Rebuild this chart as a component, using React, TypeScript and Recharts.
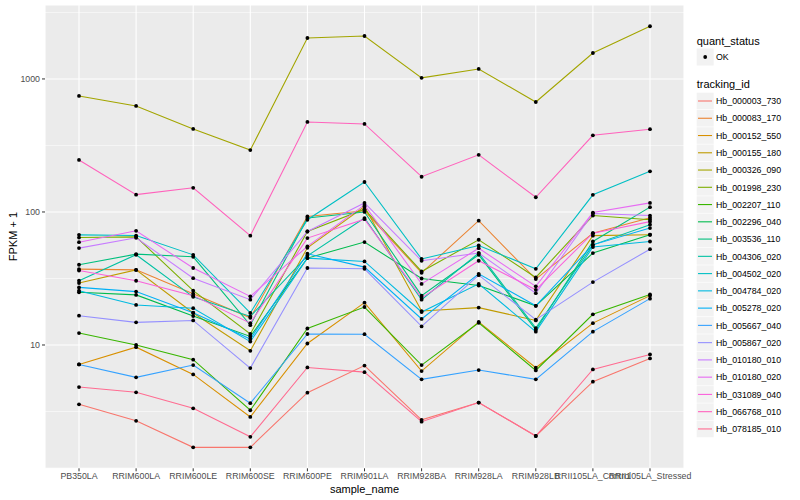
import React from 'react';
import { LineChart, Line, XAxis, YAxis, CartesianGrid, ReferenceLine, Legend } from 'recharts';

const samples = ['PB350LA', 'RRIM600LA', 'RRIM600LE', 'RRIM600SE', 'RRIM600PE', 'RRIM901LA', 'RRIM928BA', 'RRIM928LA', 'RRIM928LB', 'RRII105LA_Control', 'RRII105LA_Stressed'];

const trackingIds = ['Hb_000003_730', 'Hb_000083_170', 'Hb_000152_550', 'Hb_000155_180', 'Hb_000326_090', 'Hb_001998_230', 'Hb_002207_110', 'Hb_002296_040', 'Hb_003536_110', 'Hb_004306_020', 'Hb_004502_020', 'Hb_004784_020', 'Hb_005278_020', 'Hb_005667_040', 'Hb_005867_020', 'Hb_010180_010', 'Hb_010180_020', 'Hb_031089_040', 'Hb_066768_010', 'Hb_078185_010'];

const palette = ['#F8766D', '#EA8331', '#D89000', '#C09B00', '#A3A500', '#7CAE00', '#39B600', '#00BB4E', '#00BF7D', '#00C1A3', '#00BFC4', '#00BAE0', '#00B0F6', '#35A2FF', '#9590FF', '#C77CFF', '#E76BF3', '#FA62DB', '#FF62BC', '#FF6C91'];

// FPKM + 1 values per tracking_id, in sample order
const hb000003_730 = [3.58, 2.69, 1.70, 1.70, 4.38, 7.0, 2.74, 3.69, 2.07, 5.3, 7.93];
const hb000083_170 = [37.2, 36.7, 24.3, 16.0, 92.5, 102, 34.9, 86, 31.3, 69.3, 90.6];
const hb000152_550 = [7.14, 9.63, 6.01, 2.88, 10.26, 20.8, 6.37, 14.9, 6.75, 14.6, 23.5];
const hb000155_180 = [29.2, 36.7, 17.4, 9.04, 53.8, 110, 18.0, 19.1, 15.3, 66.4, 67.4];
const hb000326_090 = [745, 627, 421, 292, 2032, 2104, 1019, 1189, 671, 1567, 2489];
const hb001998_230 = [64.2, 65, 25.6, 12.1, 71.3, 105, 35.7, 61.8, 32.2, 94, 87.4];
const hb002207_110 = [12.3, 10.0, 7.75, 3.23, 13.3, 19.3, 7.06, 14.7, 6.44, 17.0, 24.0];
const hb002296_040 = [24.9, 23.8, 16.5, 11.6, 45, 59.4, 31.6, 28.0, 19.7, 49.1, 67.4];
const hb003536_110 = [40.1, 48.2, 46, 14.1, 90, 100, 23.5, 47.6, 13.0, 60, 108.7];
const hb004306_020 = [30.4, 47.7, 23.0, 16.4, 46.8, 90, 21.9, 49.1, 13.4, 56.6, 80.2];
const hb004502_020 = [67.3, 66.5, 47.6, 17.4, 87.4, 168, 44.3, 56, 37.4, 134.6, 202];
const hb004784_020 = [25.6, 20.0, 18.9, 10.6, 45, 42.5, 17.7, 28.8, 12.6, 54.5, 60];
const hb005278_020 = [27.1, 25.2, 17.5, 11.1, 48.5, 38.5, 15.7, 34.3, 19.7, 56.6, 75.7];
const hb005667_040 = [7.14, 5.71, 7.06, 3.65, 12.1, 12.05, 5.52, 6.48, 5.52, 12.6, 22.3];
const hb005867_020 = [16.6, 14.8, 15.3, 6.7, 37.9, 37.4, 13.8, 33.5, 15.5, 29.7, 52.5];
const hb010180_010 = [53.5, 64, 31.8, 21.9, 71.3, 117, 43, 49.1, 24.5, 97.3, 94];
const hb010180_020 = [59.3, 72.2, 37.9, 23.2, 55.1, 113, 28.8, 53.4, 27.6, 99, 117];
const hb031089_040 = [36.3, 30.4, 23.5, 14.6, 63.6, 88.3, 22.6, 43, 26, 69.3, 84.6];
const hb066768_010 = [246, 135, 152, 66.4, 475, 459, 184, 269, 129, 377, 419];
const hb078185_010 = [4.83, 4.41, 3.34, 2.04, 6.78, 6.25, 2.65, 3.69, 2.07, 6.55, 8.49];

const seriesValues = [hb000003_730, hb000083_170, hb000152_550, hb000155_180, hb000326_090, hb001998_230, hb002207_110, hb002296_040, hb003536_110, hb004306_020, hb004502_020, hb004784_020, hb005278_020, hb005667_040, hb005867_020, hb010180_010, hb010180_020, hb031089_040, hb066768_010, hb078185_010];

const yTicks = [10, 100, 1000];
const yMinor = [3.1623, 31.623, 316.23, 3162.3];
const yDomain = [1.183, 3597];

const data = samples.map((s, i) => {
  const row: Record<string, any> = { sample: s };
  trackingIds.forEach((id, k) => {
    row[id] = seriesValues[k][i];
  });
  return row;
});

const FONT = '"Liberation Sans", Arial, Helvetica, sans-serif';

const renderLegend = () => {
  const ox = 690;
  return (
    <svg width={110} height={500} style={{ display: 'block', fontFamily: FONT }}>
      <text x={696.7 - ox} y={44.7} fontSize={11} fill="#000">quant_status</text>
      <rect x={696.7 - ox} y={48.5} width={17} height={17} fill="#F2F2F2" />
      <circle cx={705.2 - ox} cy={57} r={1.9} fill="#000" />
      <text x={716 - ox} y={60.2} fontSize={8.8} fill="#000">OK</text>
      <text x={696.7 - ox} y={88.3} fontSize={11} fill="#000">tracking_id</text>
      {trackingIds.map((id, i) => {
        const cy = 101 + 17.26 * i;
        return (
          <g key={id}>
            <rect x={696.7 - ox} y={cy - 8.3} width={17} height={16.6} fill="#F2F2F2" />
            <line x1={698 - ox} x2={712 - ox} y1={cy} y2={cy} stroke={palette[i]} strokeWidth={1.1} />
            <text x={716 - ox} y={cy + 3.2} fontSize={8.8} fill="#000">{id}</text>
          </g>
        );
      })}
    </svg>
  );
};

export default function App() {
  return (
    <div style={{ position: 'absolute', left: 0, top: 0, width: 800, height: 500, background: '#fff', fontFamily: FONT }}>
      <LineChart width={800} height={500} data={data} margin={{ top: 5, right: 6, bottom: 0, left: 0 }}>
        <CartesianGrid fill="#EBEBEB" stroke="#FFFFFF" strokeWidth={1.07} />
        {yMinor.map((v) => (
          <ReferenceLine key={v} y={v} stroke="#FFFFFF" strokeWidth={0.55} />
        ))}
        <XAxis
          dataKey="sample"
          type="category"
          interval={0}
          padding={{ left: 34, right: 34 }}
          height={31.7}
          axisLine={false}
          tickLine={{ stroke: '#333333', strokeWidth: 1 }}
          tickSize={3}
          tickMargin={1.5}
          tick={{ fontSize: 8.8, fill: '#4D4D4D', fontFamily: FONT }}
          label={{
            content: () => (
              <text x={364.5} y={493} textAnchor="middle" fontSize={11} fill="#000" fontFamily={FONT}>sample_name</text>
            ),
          }}
        />
        <YAxis
          type="number"
          scale="log"
          domain={yDomain}
          allowDataOverflow
          ticks={yTicks}
          width={45}
          axisLine={false}
          tickLine={{ stroke: '#333333', strokeWidth: 1 }}
          tickSize={3}
          tickMargin={2}
          tick={{ fontSize: 8.8, fill: '#4D4D4D', fontFamily: FONT }}
          label={{
            content: () => (
              <text x={17} y={236.6} transform="rotate(-90 17 236.6)" textAnchor="middle" fontSize={11} fill="#000" fontFamily={FONT}>FPKM + 1</text>
            ),
          }}
        />
        <Legend layout="vertical" align="right" verticalAlign="top" wrapperStyle={{ top: 0, right: 0, width: 110, height: 500 }} content={renderLegend} />
        {trackingIds.map((id, k) => (
          <Line
            key={id}
            dataKey={id}
            type="linear"
            stroke={palette[k]}
            strokeWidth={1.07}
            dot={false}
            activeDot={false}
            isAnimationActive={false}
          />
        ))}
        {trackingIds.map((id) => (
          <Line
            key={id + '_pt'}
            dataKey={id}
            type="linear"
            stroke="none"
            legendType="none"
            dot={{ r: 1.9, fill: '#000', stroke: 'none' }}
            activeDot={false}
            isAnimationActive={false}
          />
        ))}
      </LineChart>
    </div>
  );
}
